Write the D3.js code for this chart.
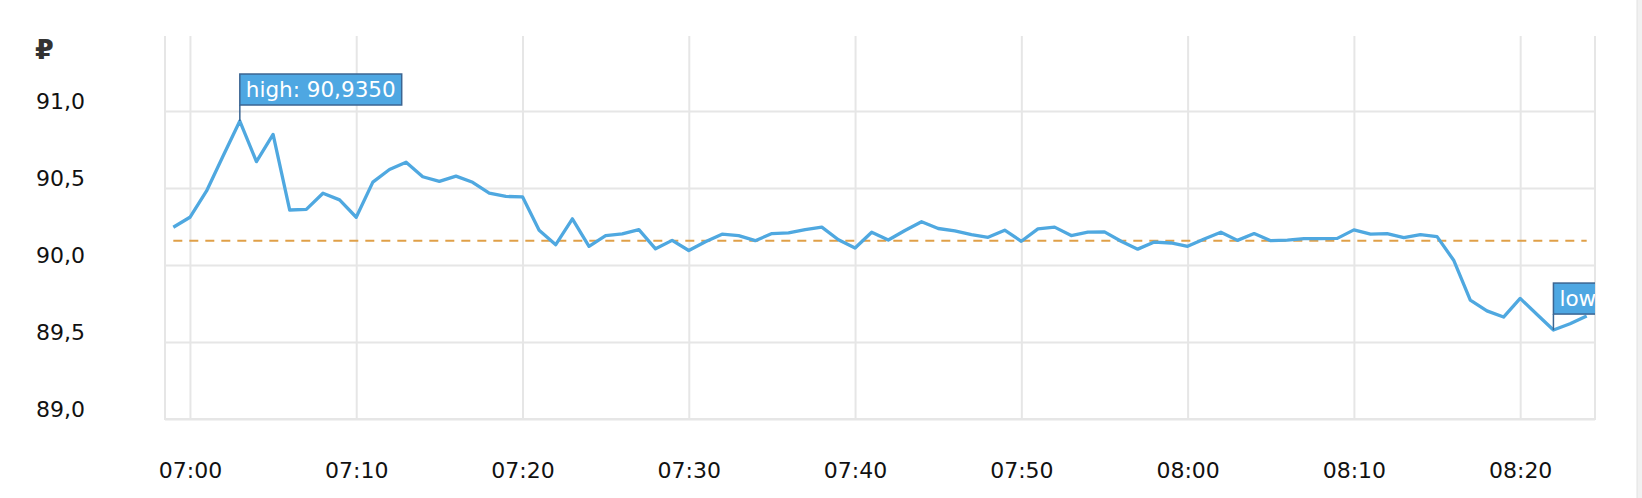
<!DOCTYPE html>
<html>
<head>
<meta charset="utf-8">
<script src="https://cdn.jsdelivr.net/npm/d3@7"></script>
<style>
  html, body { margin: 0; padding: 0; background: #fff; }
  svg { display: block; }
  text { font-family: "DejaVu Sans", Verdana, sans-serif; }
</style>
</head>
<body>
<svg id="chart" width="1642" height="498"></svg>
<script>
// ---- data ----
const startTime = "06:59";
const prices = [
  90.245, 90.310, 90.481, 90.709, 90.935, 90.671, 90.848, 90.357, 90.361, 90.466,
  90.423, 90.310, 90.538, 90.620, 90.667, 90.573, 90.543, 90.577, 90.537, 90.467,
  90.445, 90.443, 90.226, 90.132, 90.300, 90.121, 90.191, 90.202, 90.230, 90.105,
  90.160, 90.094, 90.151, 90.200, 90.191, 90.158, 90.204, 90.208, 90.230, 90.246,
  90.164, 90.110, 90.213, 90.162, 90.224, 90.281, 90.237, 90.221, 90.197, 90.180,
  90.226, 90.154, 90.235, 90.246, 90.191, 90.213, 90.215, 90.154, 90.103, 90.149,
  90.143, 90.121, 90.169, 90.213, 90.160, 90.204, 90.158, 90.162, 90.171, 90.171,
  90.173, 90.228, 90.200, 90.204, 90.178, 90.197, 90.184, 90.031, 89.772, 89.702,
  89.662, 89.783, 89.680, 89.5775, 89.618, 89.669
];
const referenceLevel = 90.158;
const highLabel = "high: 90,9350";
const lowLabel = "low: 89,5775";
const yTicks = [89.0, 89.5, 90.0, 90.5, 91.0];
const xTickLabels = ["07:00", "07:10", "07:20", "07:30", "07:40", "07:50", "08:00", "08:10", "08:20"];
const currencySymbol = "₽";

// ---- build ----
const parse = d3.timeParse("%H:%M");
const t0 = parse(startTime);
const data = prices.map((v, i) => ({ t: d3.timeMinute.offset(t0, i), v }));
const xTicks = xTickLabels.map(parse);

const svg = d3.select("#chart");
const L = 165, R = 1595, T = 34, B = 419;

const x = d3.scaleTime()
  .domain([d3.timeSecond.offset(data[0].t, -30), d3.timeSecond.offset(data[data.length - 1].t, 30)])
  .range([L, R]);
const y = d3.scaleLinear().domain([89, 91.5]).range([B, T]);

const fmtY = v => d3.format(".1f")(v).replace(".", ",");
const grid = "#e6e6e6";

// right-side page strip
svg.append("rect").attr("x", 1637).attr("y", 0).attr("width", 5).attr("height", 498).attr("fill", "#f1f1f1");
svg.append("line").attr("x1", 1637).attr("x2", 1637).attr("y1", 0).attr("y2", 498).attr("stroke", "#e2e2e2").attr("stroke-width", 1);

// horizontal grid (y axis)
const yAxis = d3.axisLeft(y).tickValues(yTicks).tickSize(-(R - L)).tickFormat(fmtY);
const gy = svg.append("g").attr("transform", `translate(${L},0)`).call(yAxis);
gy.select(".domain").remove();
gy.selectAll(".tick line").attr("stroke", grid).attr("stroke-width", 2);
gy.selectAll(".tick text")
  .attr("text-anchor", "end")
  .attr("x", 85 - L).attr("y", -3).attr("dy", null)
  .style("font-size", "22px").attr("fill", "#111");

// vertical grid (x axis)
const xAxis = d3.axisBottom(x).tickValues(xTicks).tickSize(-(B - T - 2)).tickFormat(d3.timeFormat("%H:%M"));
const gx = svg.append("g").attr("transform", `translate(0,${B})`).call(xAxis);
gx.select(".domain").remove();
gx.selectAll(".tick line").attr("stroke", grid).attr("stroke-width", 2);
gx.selectAll(".tick text").attr("y", 59).attr("dy", null).style("font-size", "22px").attr("fill", "#111");

// frame: left, bottom, right
svg.append("path")
  .attr("d", `M${L},${T + 2}V${B}H${R}V${T + 2}`)
  .attr("fill", "none").attr("stroke", grid).attr("stroke-width", 2);

// currency symbol
svg.append("text").attr("x", 35).attr("y", 59).text(currencySymbol)
  .style("font-size", "27px").style("font-weight", "bold").attr("fill", "#333");

// clip
svg.append("defs").append("clipPath").attr("id", "plotclip")
  .append("rect").attr("x", L).attr("y", 0).attr("width", R - L).attr("height", B);

const plot = svg.append("g").attr("clip-path", "url(#plotclip)");

// reference dashed line
plot.append("line")
  .attr("x1", x(data[0].t)).attr("x2", x(data[data.length - 1].t))
  .attr("y1", y(referenceLevel)).attr("y2", y(referenceLevel))
  .attr("stroke", "#e0a048").attr("stroke-width", 2).attr("stroke-dasharray", "9,7");

// price line
plot.append("path").datum(data)
  .attr("d", d3.line().x(d => x(d.t)).y(d => y(d.v)))
  .attr("fill", "none").attr("stroke", "#4fa8e0").attr("stroke-width", 3.3)
  .attr("stroke-linejoin", "round");

// callouts
function callout(d, label) {
  const px = x(d.t), py = y(d.v);
  const h = 31, gap = 16;
  const top = py - gap - h;
  const g = plot.append("g");
  const txt = g.append("text").attr("x", px + 6).attr("y", top + 23).text(label)
    .style("font-size", "21.5px").attr("fill", "#fff");
  const w = txt.node().getComputedTextLength() + 12;
  g.insert("rect", "text").attr("x", px).attr("y", top).attr("width", w).attr("height", h)
    .attr("fill", "#4ea7e2").attr("stroke", "#3b6592").attr("stroke-width", 1.5);
  g.append("line").attr("x1", px).attr("x2", px).attr("y1", top + h).attr("y2", py)
    .attr("stroke", "#3b6592").attr("stroke-width", 1.5);
}
const hi = data.reduce((a, b) => (b.v > a.v ? b : a));
const lo = data.reduce((a, b) => (b.v < a.v ? b : a));
callout(hi, highLabel);
callout(lo, lowLabel);
</script>
</body>
</html>
